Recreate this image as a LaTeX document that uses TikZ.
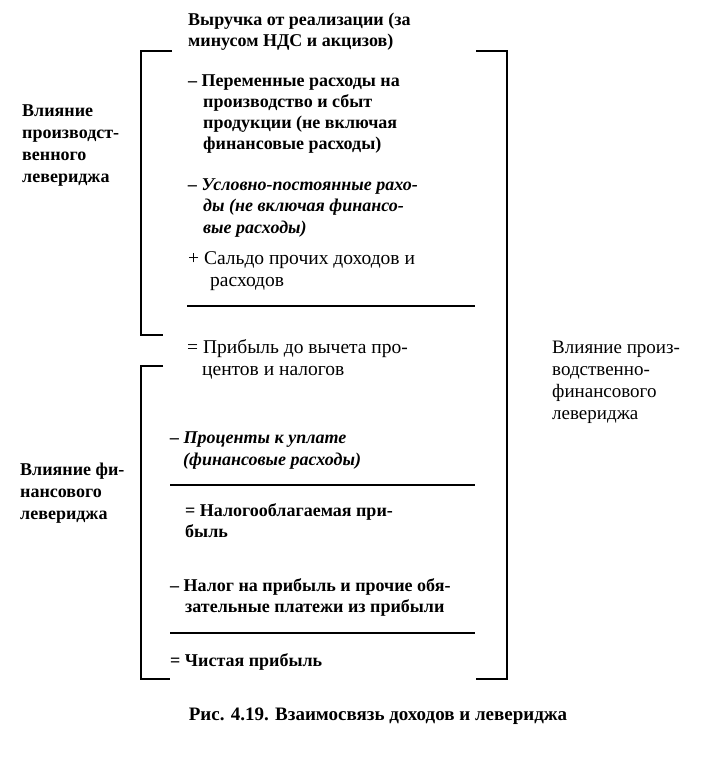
\documentclass[tikz,border=0pt]{standalone}
\usepackage{fontspec}
\setmainfont{Liberation Serif}
\usetikzlibrary{positioning}

\tikzset{
  item/.style={anchor=base west, inner sep=0pt, align=left,
    font=\bfseries\fontsize{18}{21}\selectfont},
  thin item/.style={item, font=\fontsize{19.5}{21.5}\selectfont},
  slanted item/.style={item, font=\bfseries\itshape\fontsize{18}{21.5}\selectfont},
  rule/.style={line width=1.2pt},
  brace/.style={line width=1.6pt},
}
\newcommand{\ind}{\hspace*{15pt}}

\begin{document}
\begin{tikzpicture}[x=1pt,y=-1pt]
  \useasboundingbox (0,0) rectangle (705,761);

  % main column (y = baseline of the last line)
  \node [item] (rev) at (188,46) {Выручка от реализации (за\\минусом НДС и акцизов)};
  \node [item] (varcost) at (188,149) {– Переменные расходы на\\\ind производство и сбыт\\\ind продукции (не включая\\\ind финансовые расходы)};
  \node [slanted item] (fixcost) at (188,233) {– Условно-постоянные рахо-\\\ind ды (не включая финансо-\\\ind вые расходы)};
  \node [thin item] (other) at (188,286) {+ Сальдо прочих доходов и\\\hspace*{22pt}расходов};
  \node [thin item] (ebit) at (187,375) {= Прибыль до вычета про-\\\ind центов и налогов};
  \node [slanted item] (interest) at (170,465) {– Проценты к уплате\\\hspace*{13pt}(финансовые расходы)};
  \node [item] (taxable) at (185,537) {= Налогооблагаемая при-\\быль};
  \node [item] (tax) at (170,612) {– Налог на прибыль и прочие обя-\\\ind зательные платежи из прибыли};
  \node [item] (net) at (170,666) {= Чистая прибыль};

  % rules
  \coordinate (r1a) at (187,306);  \coordinate (r1b) at (475,306);
  \coordinate (r2a) at (170,485);  \coordinate (r2b) at (475,485);
  \coordinate (r3a) at (170,633);  \coordinate (r3b) at (475,633);
  \draw [rule] (r1a) -- (r1b);
  \draw [rule] (r2a) -- (r2b);
  \draw [rule] (r3a) -- (r3b);

  % brackets
  \coordinate (op0) at (172,51);  \coordinate (op1) at (141,51);
  \coordinate (op2) at (141,335); \coordinate (op3) at (163,335);
  \coordinate (fin0) at (163,366); \coordinate (fin1) at (141,366);
  \coordinate (fin2) at (141,679); \coordinate (fin3) at (170,679);
  \coordinate (tot0) at (476,51);  \coordinate (tot1) at (507,51);
  \coordinate (tot2) at (507,679); \coordinate (tot3) at (476,679);
  \draw [brace] (op0) -- (op1) -- (op2) -- (op3);
  \draw [brace] (fin0) -- (fin1) -- (fin2) -- (fin3);
  \draw [brace, line width=2.2pt] (tot0) -- (tot1) -- (tot2) -- (tot3);

  % side labels
  \node [item, font=\bfseries\fontsize{18}{22}\selectfont] (oplev) at (22,182) {Влияние\\производст-\\венного\\левериджа};
  \node [item, font=\bfseries\fontsize{18}{22}\selectfont] (finlev) at (20,519) {Влияние фи-\\нансового\\левериджа};
  \node [thin item, font=\fontsize{19}{22}\selectfont] (totlev) at (552,419) {Влияние произ-\\водственно-\\финансового\\левериджа};

  \node [item, anchor=base, font=\bfseries\fontsize{19}{22}\selectfont] (caption) at (378,720) {Рис. 4.19. Взаимосвязь доходов и левериджа};
\end{tikzpicture}
\end{document}
